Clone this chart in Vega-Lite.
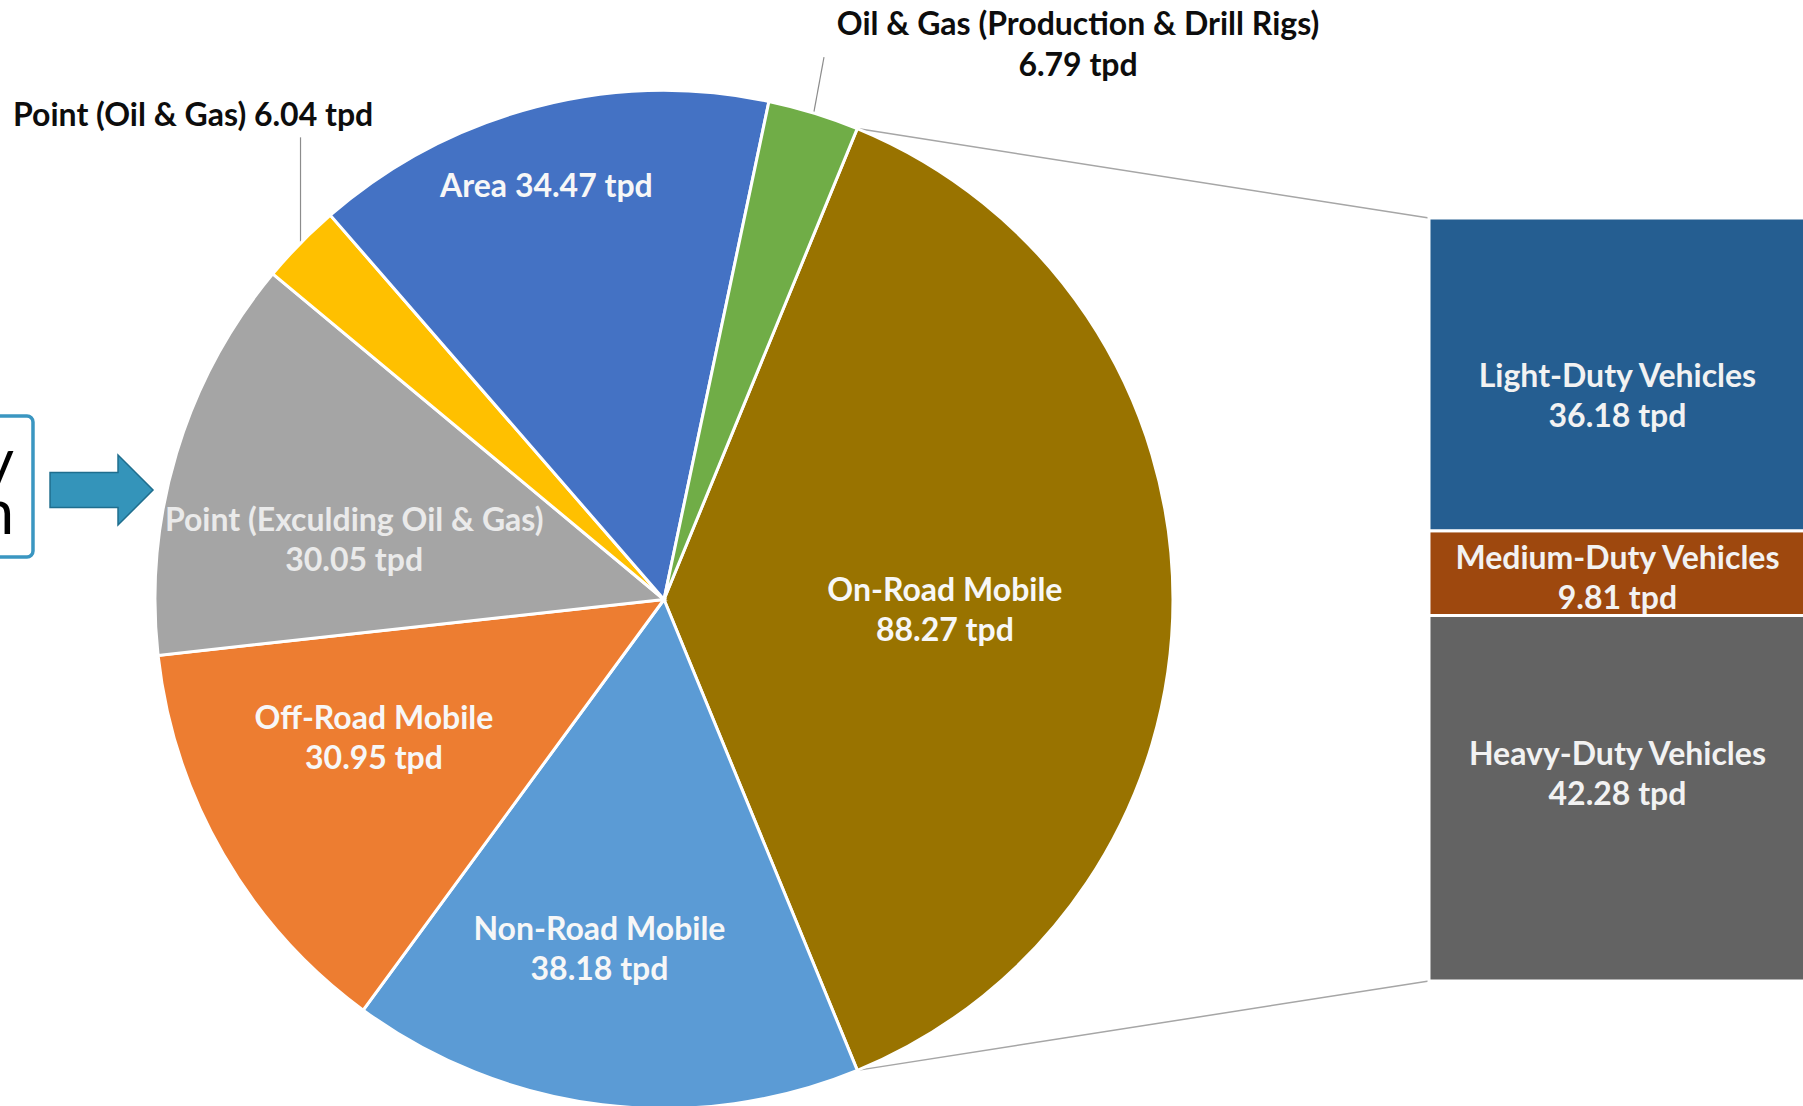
{
  "$schema": "https://vega.github.io/schema/vega-lite/v6.json",
  "width": 1803,
  "height": 1106,
  "autosize": "none",
  "padding": 0,
  "background": "white",
  "config": {"view": {"stroke": null}},
  "datasets": {
    "pie": [
      {"cat": "On-Road Mobile", "tpd": 88.27, "order": 1, "label": "On-Road Mobile\n88.27 tpd"},
      {"cat": "Non-Road Mobile", "tpd": 38.18, "order": 2, "label": "Non-Road Mobile\n38.18 tpd"},
      {"cat": "Off-Road Mobile", "tpd": 30.95, "order": 3, "label": "Off-Road Mobile\n30.95 tpd"},
      {"cat": "Point (Exculding Oil & Gas)", "tpd": 30.05, "order": 4, "label": "Point (Exculding Oil & Gas)\n30.05 tpd"},
      {"cat": "Point (Oil & Gas)", "tpd": 6.04, "order": 5, "label": "Point (Oil & Gas) 6.04 tpd"},
      {"cat": "Area", "tpd": 34.47, "order": 6, "label": "Area 34.47 tpd"},
      {"cat": "Oil & Gas (Production & Drill Rigs)", "tpd": 6.79, "order": 7, "label": "Oil & Gas (Production & Drill Rigs)\n6.79  tpd"}
    ],
    "bar": [
      {"cat": "Heavy-Duty Vehicles", "tpd": 42.28, "order": 1, "label": "Heavy-Duty Vehicles\n42.28 tpd"},
      {"cat": "Medium-Duty Vehicles", "tpd": 9.81, "order": 2, "label": "Medium-Duty Vehicles\n9.81 tpd"},
      {"cat": "Light-Duty Vehicles", "tpd": 36.18, "order": 3, "label": "Light-Duty Vehicles\n36.18 tpd"}
    ],
    "one": [{}]
  },
  "layer": [
    {
      "data": {"name": "one"},
      "mark": {"type": "rule", "stroke": "#A6A6A6", "strokeWidth": 1.5},
      "encoding": {
        "x": {"datum": 22.35, "type": "quantitative", "scale": {"domain": [-76.816, 131.768], "nice": false, "zero": false}, "axis": null},
        "y": {"datum": 98.61, "type": "quantitative", "scale": {"domain": [-14.461, 113.489], "nice": false, "zero": false}, "axis": null},
        "x2": {"datum": 88.5},
        "y2": {"datum": 88.27}
      }
    },
    {
      "data": {"name": "one"},
      "mark": {"type": "rule", "stroke": "#A6A6A6", "strokeWidth": 1.5},
      "encoding": {
        "x": {"datum": 22.35, "type": "quantitative", "scale": {"domain": [-76.816, 131.768], "nice": false, "zero": false}, "axis": null},
        "y": {"datum": -10.34, "type": "quantitative", "scale": {"domain": [-14.461, 113.489], "nice": false, "zero": false}, "axis": null},
        "x2": {"datum": 88.5},
        "y2": {"datum": 0}
      }
    },
    {
      "data": {"name": "one"},
      "mark": {"type": "rule", "stroke": "#8C8C8C", "strokeWidth": 1.2},
      "encoding": {
        "x": {"datum": -42.05, "type": "quantitative", "scale": {"domain": [-76.816, 131.768], "nice": false, "zero": false}, "axis": null},
        "y": {"datum": 85.35, "type": "quantitative", "scale": {"domain": [-14.461, 113.489], "nice": false, "zero": false}, "axis": null},
        "x2": {"datum": -42.05},
        "y2": {"datum": 97.6}
      }
    },
    {
      "data": {"name": "one"},
      "mark": {"type": "rule", "stroke": "#8C8C8C", "strokeWidth": 1.2},
      "encoding": {
        "x": {"datum": 17.32, "type": "quantitative", "scale": {"domain": [-76.816, 131.768], "nice": false, "zero": false}, "axis": null},
        "y": {"datum": 100.39, "type": "quantitative", "scale": {"domain": [-14.461, 113.489], "nice": false, "zero": false}, "axis": null},
        "x2": {"datum": 18.51},
        "y2": {"datum": 106.89}
      }
    },
    {
      "data": {"name": "pie"},
      "encoding": {
        "theta": {"field": "tpd", "type": "quantitative", "stack": true, "scale": {"range": [0.38939, 6.67258]}},
        "order": {"field": "order", "type": "quantitative"},
        "x": {"value": {"expr": "scale('x', 0)"}},
        "y": {"value": {"expr": "scale('y', 44.135)"}}
      },
      "layer": [
        {
          "mark": {"type": "arc", "outerRadius": 509, "stroke": "white", "strokeWidth": 3},
          "encoding": {
            "color": {
              "field": "cat", "type": "nominal", "legend": null,
              "scale": {
                "domain": ["On-Road Mobile", "Non-Road Mobile", "Off-Road Mobile", "Point (Exculding Oil & Gas)", "Point (Oil & Gas)", "Area", "Oil & Gas (Production & Drill Rigs)", "Light-Duty Vehicles", "Medium-Duty Vehicles", "Heavy-Duty Vehicles"],
                "range": ["#997300", "#5B9BD5", "#ED7D31", "#A5A5A5", "#FFC000", "#4472C4", "#70AD47", "#255E91", "#9E480E", "#636363"]
              }
            }
          }
        },
        {
          "mark": {"type": "text", "radius": 281, "thetaOffset": 0.024, "dy": -15, "font": "Lato", "fontWeight": "bold", "fontSize": 32, "lineBreak": "\n", "lineHeight": 40, "color": "#F7F7F7", "align": "center", "baseline": "middle"},
          "encoding": {"detail": {"field": "cat"}, "text": {"condition": {"test": "datum.cat === 'On-Road Mobile'", "field": "label"}, "value": ""}}
        },
        {
          "mark": {"type": "text", "radius": 356, "thetaOffset": 0.061, "dy": -20, "font": "Lato", "fontWeight": "bold", "fontSize": 32, "lineBreak": "\n", "lineHeight": 40, "color": "#F7F7F7", "align": "center", "baseline": "middle"},
          "encoding": {"detail": {"field": "cat"}, "text": {"condition": {"test": "datum.cat === 'Non-Road Mobile'", "field": "label"}, "value": ""}}
        },
        {
          "mark": {"type": "text", "radius": 320, "thetaOffset": 0.088, "dy": -16, "font": "Lato", "fontWeight": "bold", "fontSize": 32, "lineBreak": "\n", "lineHeight": 40, "color": "#F7F7F7", "align": "center", "baseline": "middle"},
          "encoding": {"detail": {"field": "cat"}, "text": {"condition": {"test": "datum.cat === 'Off-Road Mobile'", "field": "label"}, "value": ""}}
        },
        {
          "mark": {"type": "text", "radius": 316, "thetaOffset": -0.094, "dy": -16, "font": "Lato", "fontWeight": "bold", "fontSize": 32, "lineBreak": "\n", "lineHeight": 40, "color": "#EAEAEA", "align": "center", "baseline": "middle"},
          "encoding": {"detail": {"field": "cat"}, "text": {"condition": {"test": "datum.cat === 'Point (Exculding Oil & Gas)'", "field": "label"}, "value": ""}}
        },
        {
          "mark": {"type": "text", "radius": 432, "thetaOffset": -0.022, "dy": 3, "font": "Lato", "fontWeight": "bold", "fontSize": 32, "lineBreak": "\n", "lineHeight": 40, "color": "#F7F7F7", "align": "center", "baseline": "middle"},
          "encoding": {"detail": {"field": "cat"}, "text": {"condition": {"test": "datum.cat === 'Area'", "field": "label"}, "value": ""}}
        }
      ]
    },
    {
      "data": {"name": "bar"},
      "encoding": {
        "y": {"field": "tpd", "type": "quantitative", "stack": "zero", "scale": {"domain": [-14.461, 113.489], "nice": false, "zero": false}, "axis": null},
        "order": {"field": "order", "type": "quantitative"}
      },
      "layer": [
        {
          "mark": {"type": "bar", "orient": "vertical", "stroke": "white", "strokeWidth": 3},
          "encoding": {
            "x": {"value": {"expr": "scale('x', 88.5)"}},
            "x2": {"value": {"expr": "scale('x', 132)"}},
            "color": {"field": "cat", "type": "nominal", "legend": null}
          }
        },
        {
          "mark": {"type": "text", "dy": 3, "font": "Lato", "fontWeight": "bold", "fontSize": 32, "lineBreak": "\n", "lineHeight": 40, "color": "#F2F2F2", "align": "center", "baseline": "middle"},
          "encoding": {
            "x": {"value": {"expr": "scale('x', 110.3)"}},
            "y": {"field": "tpd", "type": "quantitative", "stack": "zero", "bandPosition": 0.5, "scale": {"domain": [-14.461, 113.489], "nice": false, "zero": false}, "axis": null},
            "detail": {"field": "cat"},
            "text": {"condition": {"test": "datum.cat === 'Light-Duty Vehicles'", "field": "label"}, "value": ""}
          }
        },
        {
          "mark": {"type": "text", "dy": -14, "font": "Lato", "fontWeight": "bold", "fontSize": 32, "lineBreak": "\n", "lineHeight": 40, "color": "#F2F2F2", "align": "center", "baseline": "middle"},
          "encoding": {
            "x": {"value": {"expr": "scale('x', 110.3)"}},
            "y": {"field": "tpd", "type": "quantitative", "stack": "zero", "bandPosition": 0.5, "scale": {"domain": [-14.461, 113.489], "nice": false, "zero": false}, "axis": null},
            "detail": {"field": "cat"},
            "text": {"condition": {"test": "datum.cat === 'Medium-Duty Vehicles'", "field": "label"}, "value": ""}
          }
        },
        {
          "mark": {"type": "text", "dy": -43, "font": "Lato", "fontWeight": "bold", "fontSize": 32, "lineBreak": "\n", "lineHeight": 40, "color": "#F2F2F2", "align": "center", "baseline": "middle"},
          "encoding": {
            "x": {"value": {"expr": "scale('x', 110.3)"}},
            "y": {"field": "tpd", "type": "quantitative", "stack": "zero", "bandPosition": 0.5, "scale": {"domain": [-14.461, 113.489], "nice": false, "zero": false}, "axis": null},
            "detail": {"field": "cat"},
            "text": {"condition": {"test": "datum.cat === 'Heavy-Duty Vehicles'", "field": "label"}, "value": ""}
          }
        }
      ]
    },
    {
      "data": {"name": "pie"},
      "transform": [{"filter": "datum.cat === 'Point (Oil & Gas)'"}],
      "mark": {"type": "text", "font": "Lato", "fontWeight": "bold", "fontSize": 32, "color": "#0D0D0D", "align": "left", "baseline": "middle"},
      "encoding": {
        "x": {"datum": -75.31, "type": "quantitative", "scale": {"domain": [-76.816, 131.768], "nice": false, "zero": false}, "axis": null},
        "y": {"datum": 100.1, "type": "quantitative", "scale": {"domain": [-14.461, 113.489], "nice": false, "zero": false}, "axis": null},
        "text": {"field": "label"}
      }
    },
    {
      "data": {"name": "pie"},
      "transform": [{"filter": "datum.cat === 'Oil & Gas (Production & Drill Rigs)'"}],
      "mark": {"type": "text", "font": "Lato", "fontWeight": "bold", "fontSize": 32, "color": "#0D0D0D", "align": "center", "baseline": "middle", "lineBreak": "\n", "lineHeight": 41},
      "encoding": {
        "x": {"datum": 47.9, "type": "quantitative", "scale": {"domain": [-76.816, 131.768], "nice": false, "zero": false}, "axis": null},
        "y": {"datum": 110.6, "type": "quantitative", "scale": {"domain": [-14.461, 113.489], "nice": false, "zero": false}, "axis": null},
        "text": {"field": "label"}
      }
    },
    {
      "data": {"name": "one"},
      "mark": {"type": "rect", "fill": null, "fillOpacity": 0, "stroke": "#3A96C1", "strokeWidth": 3.5, "cornerRadius": 6},
      "encoding": {
        "x": {"datum": -90, "type": "quantitative", "scale": {"domain": [-76.816, 131.768], "nice": false, "zero": false}, "axis": null},
        "y": {"datum": 65.36, "type": "quantitative", "scale": {"domain": [-14.461, 113.489], "nice": false, "zero": false}, "axis": null},
        "x2": {"datum": -73.0},
        "y2": {"datum": 49.05}
      }
    },
    {
      "data": {"name": "one"},
      "mark": {"type": "point", "filled": true, "opacity": 1, "fill": "#3494BA", "stroke": "#1F6E8E", "strokeWidth": 1.5, "size": 10609, "shape": "M-1,-0.34L0.32,-0.34L0.32,-0.68L1,0L0.32,0.68L0.32,0.34L-1,0.34Z"},
      "encoding": {
        "x": {"datum": -65.07, "type": "quantitative", "scale": {"domain": [-76.816, 131.768], "nice": false, "zero": false}, "axis": null},
        "y": {"datum": 56.8, "type": "quantitative", "scale": {"domain": [-14.461, 113.489], "nice": false, "zero": false}, "axis": null}
      }
    },
    {
      "data": {"values": [{"t": "y"}]},
      "mark": {"type": "text", "font": "Lato", "fontSize": 61, "color": "#000000", "align": "right", "baseline": "alphabetic"},
      "encoding": {
        "x": {"datum": -75.2, "type": "quantitative", "scale": {"domain": [-76.816, 131.768], "nice": false, "zero": false}, "axis": null},
        "y": {"datum": 57.61, "type": "quantitative", "scale": {"domain": [-14.461, 113.489], "nice": false, "zero": false}, "axis": null},
        "text": {"field": "t"}
      }
    },
    {
      "data": {"values": [{"t": "n"}]},
      "mark": {"type": "text", "font": "Lato", "fontSize": 61, "color": "#000000", "align": "right", "baseline": "alphabetic"},
      "encoding": {
        "x": {"datum": -75.2, "type": "quantitative", "scale": {"domain": [-76.816, 131.768], "nice": false, "zero": false}, "axis": null},
        "y": {"datum": 51.71, "type": "quantitative", "scale": {"domain": [-14.461, 113.489], "nice": false, "zero": false}, "axis": null},
        "text": {"field": "t"}
      }
    }
  ]
}
